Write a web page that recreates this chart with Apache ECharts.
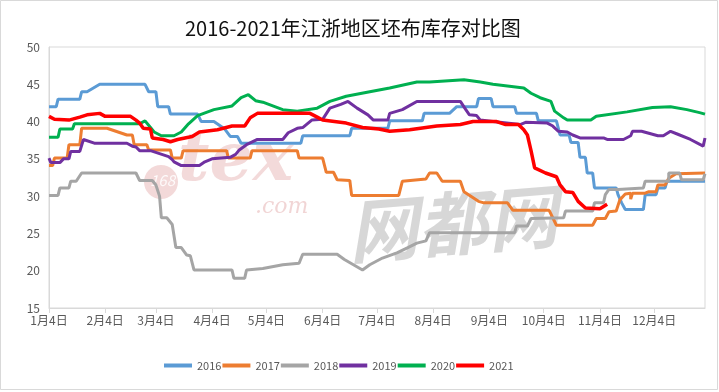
<!DOCTYPE html>
<html>
<head>
<meta charset="utf-8">
<script src="https://cdn.jsdelivr.net/npm/echarts@6/dist/echarts.min.js"></script>
<style>html,body{margin:0;padding:0;background:#fff;}#c{width:719px;height:392px;}</style>
</head>
<body>
<div id="c"></div>
<script>
// ---- data ----
const titleText = '2016-2021年江浙地区坯布库存对比图';
const seriesNames = ['2016', '2017', '2018', '2019', '2020', '2021'];
const tickLabels = ['1月4日','2月4日','3月4日','4月4日','5月4日','6月4日','7月4日','8月4日','9月4日','10月4日','11月4日','12月4日'];
// daily categories from 1月4日 to 1月1日
const categories = (function () {
  const out = [];
  const d = new Date(2021, 0, 4);
  for (let i = 0; i < 363; i++) {
    out.push((d.getMonth() + 1) + '月' + d.getDate() + '日');
    d.setDate(d.getDate() + 1);
  }
  return out;
})();
// [day index from 1月4日, inventory]
const s2016 = [[0,42],[4,42],[5,43],[17,43],[18,44],[21,44],[28,45],[53,45],[55,44],[59,44],[60,42],[66,42],[67,41],[82,41],[84,40],[91,40],[97,39],[100,38],[104,38],[106,37.1],[139,37.1],[140,38.1],[166,38.1],[167,39.1],[187,39.1],[188,40.1],[206,40.1],[207,41.1],[221,41.1],[225,42],[236,42],[237,43.1],[244,43.1],[245,42],[257,42],[258,41.1],[269,41.1],[270,40.1],[280,40.1],[282,38.2],[287,38.2],[288,37.2],[292,37.2],[293,35.2],[296,35.2],[297,33.1],[300,33.1],[301,31.1],[313,31.1],[314,30.2],[316,29.1],[318,28.2],[328,28.2],[329,30.2],[335,30.2],[336,31.1],[340,31.1],[341,32],[362,32]];
const s2017 = [[0,34.1],[2,34.1],[3,35.1],[10,35.1],[11,36.9],[17,36.9],[18,39.1],[32,39.1],[43,38.2],[46,38.2],[47,36.9],[54,36.9],[55,36.2],[67,36.2],[68,35.1],[73,35.1],[74,36.1],[98,36.1],[99,35.1],[111,35.1],[112,36.1],[137,36.1],[138,35.1],[151,35.1],[153,33.2],[157,33.2],[159,32.2],[166,32.1],[167,30.1],[193,30.1],[195,32],[208,32.3],[210,33.1],[214,33.1],[217,32],[227,32],[229,30.6],[237,29.3],[240,29.1],[253,29.1],[256,28.1],[276,28.1],[280,26.1],[300,26.1],[302,27],[307,27],[309,27.9],[313,28],[315,29.5],[318,30.3],[321,30.4],[321,29.6],[322,30.4],[329,30.4],[331,30.6],[335,30.6],[336,31.5],[340,31.5],[342,32.4],[346,33],[362,33.1]];
const s2018 = [[0,30.1],[5,30.1],[6,31.1],[11,31.1],[12,32],[15,32],[18,33.1],[48,33.1],[50,32.1],[57,32.1],[59,31.5],[61,30],[62,27.1],[65,27.1],[68,26.2],[69,26.2],[70,23.1],[73,23.1],[76,22.1],[78,22],[80,20.1],[101,20.1],[102,19],[108,19],[109,20.1],[118,20.3],[129,20.8],[138,21],[140,22.2],[159,22.2],[163,21.5],[168,20.8],[173,20.1],[177,20.8],[184,21.7],[192,22.4],[198,23.1],[203,23.7],[208,24],[210,25.1],[257,25.1],[258,26],[264,26],[266,27],[284,27.1],[285,28],[300,28],[301,29.1],[306,29.1],[307,30.2],[309,30.9],[314,30.9],[314,31.1],[328,31.1],[329,32],[342,32],[342,33.1],[348,33.1],[349,32.2],[361,32.2],[362,33]];
const s2019 = [[0,35.1],[1,34.5],[6,34.5],[8,35],[11,35],[12,36],[17,36],[19,37.6],[25,37.1],[43,37.1],[46,36.7],[48,36.6],[50,36.1],[56,36.1],[61,35.7],[66,35.3],[68,34.9],[69,34.6],[73,34.1],[83,34.1],[86,34.6],[90,35],[100,35.2],[103,35.6],[105,36.2],[109,36.9],[115,37.6],[129,37.6],[132,38.5],[137,39.1],[140,39.2],[145,40.2],[151,40.3],[155,41.8],[161,42.3],[165,42.7],[170,41.8],[176,40.9],[179,40.2],[187,40.2],[188,41.1],[195,41.6],[203,42.7],[227,42.7],[230,41.6],[232,40.9],[236,40.8],[238,40.2],[245,40],[260,39.6],[263,39.9],[275,39.8],[278,39.4],[281,38.7],[286,38.6],[289,38.2],[293,37.8],[306,37.8],[308,37.6],[317,37.6],[321,38.1],[322,38.7],[327,38.7],[330,38.5],[336,38.1],[339,38.1],[343,38.7],[347,38.3],[354,37.6],[361,36.7],[362,37.8]];
const s2020 = [[0,37.9],[5,37.9],[6,39],[13,39],[14,39.7],[50,39.7],[53,40.1],[56,39.2],[58,38.6],[62,38.1],[69,38.1],[73,38.6],[77,39.7],[82,40.8],[91,41.6],[101,42.1],[106,43.2],[110,43.6],[114,42.8],[118,42.6],[129,41.6],[137,41.4],[148,41.8],[155,42.7],[164,43.4],[177,44],[188,44.5],[203,45.3],[210,45.3],[229,45.6],[238,45.3],[245,45],[262,44.5],[266,43.8],[271,43.2],[277,42.7],[279,41.4],[284,40.5],[286,40.2],[299,40.2],[302,40.7],[319,41.3],[333,41.9],[343,42],[352,41.6],[359,41.2],[362,41]];
const s2021 = [[0,40.7],[3,40.3],[11,40.2],[17,40.6],[21,40.9],[28,41.1],[31,40.7],[45,40.7],[48,40.2],[50,39.8],[52,39.1],[56,39],[57,37.8],[63,37.6],[67,37.3],[71,37.6],[79,38],[83,38.6],[93,38.9],[101,39.4],[108,39.4],[111,40.5],[115,41.1],[144,41.1],[148,40.6],[151,40.2],[164,39.8],[173,39.2],[182,39],[188,38.7],[199,38.9],[214,39.4],[227,39.6],[234,40],[247,40],[252,39.6],[259,39.6],[262,38.9],[264,38.2],[266,36.1],[268,33.8],[274,33.1],[280,32.6],[282,31.5],[285,30.6],[289,30.5],[292,29.3],[296,28.4],[304,28.3],[308,28.9]];
const seriesData = [s2016, s2017, s2018, s2019, s2020, s2021];
const colors = ['#5B9BD5', '#ED7D31', '#A5A5A5', '#7030A0', '#00B050', '#FF0000'];

// ---- chart ----
const FONT = '"Noto Sans CJK SC", "Microsoft YaHei", sans-serif';
const isTick = function (index, value) { return tickLabels.indexOf(value) >= 0; };
const chart = echarts.init(document.getElementById('c'), null, { renderer: 'canvas' });
chart.setOption({
  animation: false,
  backgroundColor: '#fff',
  title: {
    text: titleText, left: 180, top: 13,
    textStyle: { fontSize: 20, fontWeight: 'normal', color: '#111', fontFamily: FONT }
  },
  legend: {
    data: seriesNames, left: 159, top: 355, icon: 'rect', itemWidth: 28, itemHeight: 4, itemGap: 1,
    textStyle: { fontSize: 11, color: '#595959', fontFamily: FONT }
  },
  grid: { left: 49, right: 14, top: 47, bottom: 84, show: true, borderColor: '#d9d9d9', borderWidth: 1 },
  xAxis: {
    type: 'category', data: categories, boundaryGap: false,
    axisLine: { lineStyle: { color: '#d9d9d9' } },
    axisTick: { show: true, interval: isTick, length: 5, lineStyle: { color: '#d9d9d9' } },
    axisLabel: { interval: isTick, color: '#595959', fontSize: 12, fontFamily: FONT, margin: 6 },
    splitLine: { show: false }
  },
  yAxis: {
    type: 'value', min: 15, max: 50, interval: 5,
    axisLine: { show: true, lineStyle: { color: '#d9d9d9' } },
    axisTick: { show: false },
    axisLabel: { color: '#595959', fontSize: 12, fontFamily: FONT, margin: 9 },
    splitLine: { show: false }
  },
  graphic: [
    { type: 'rect', shape: { x: 0.5, y: 0.5, width: 717, height: 389 }, style: { fill: 'none', stroke: '#d9d9d9', lineWidth: 1 }, z: -10, silent: true },
    { type: 'circle', shape: { cx: 161, cy: 182, r: 17 }, style: { fill: 'rgba(225,160,160,0.4)' }, z: -5, silent: true },
    { type: 'text', left: 150, top: 173, style: { text: '168', fontSize: 15, fontStyle: 'italic', fill: 'rgba(255,255,255,0.85)', fontFamily: FONT }, z: -4, silent: true },
    { type: 'text', left: 178, top: 128, style: { text: 'tex', fontSize: 68, fontStyle: 'italic', fontWeight: 'bold', fill: 'rgba(220,150,150,0.35)', fontFamily: 'DejaVu Serif' }, z: -5, silent: true },
    { type: 'text', left: 255, top: 196, style: { text: '.com', fontSize: 22, fontStyle: 'italic', fill: 'rgba(220,150,150,0.4)', fontFamily: 'DejaVu Serif' }, z: -5, silent: true },
    { type: 'text', left: 345, top: 180, rotation: 0.08, style: { text: '网都网', fontSize: 70, fontStyle: 'italic', fontWeight: 'bold', fill: 'rgba(140,140,140,0.35)', fontFamily: FONT }, z: -5, silent: true }
  ],
  series: seriesNames.map(function (name, i) {
    return {
      name: name, type: 'line', data: seriesData[i], symbol: 'none', smooth: false,
      color: colors[i],
      lineStyle: { color: colors[i], width: i === 5 ? 3.5 : 3 },
      z: 2 + i
    };
  })
});
</script>
</body>
</html>
